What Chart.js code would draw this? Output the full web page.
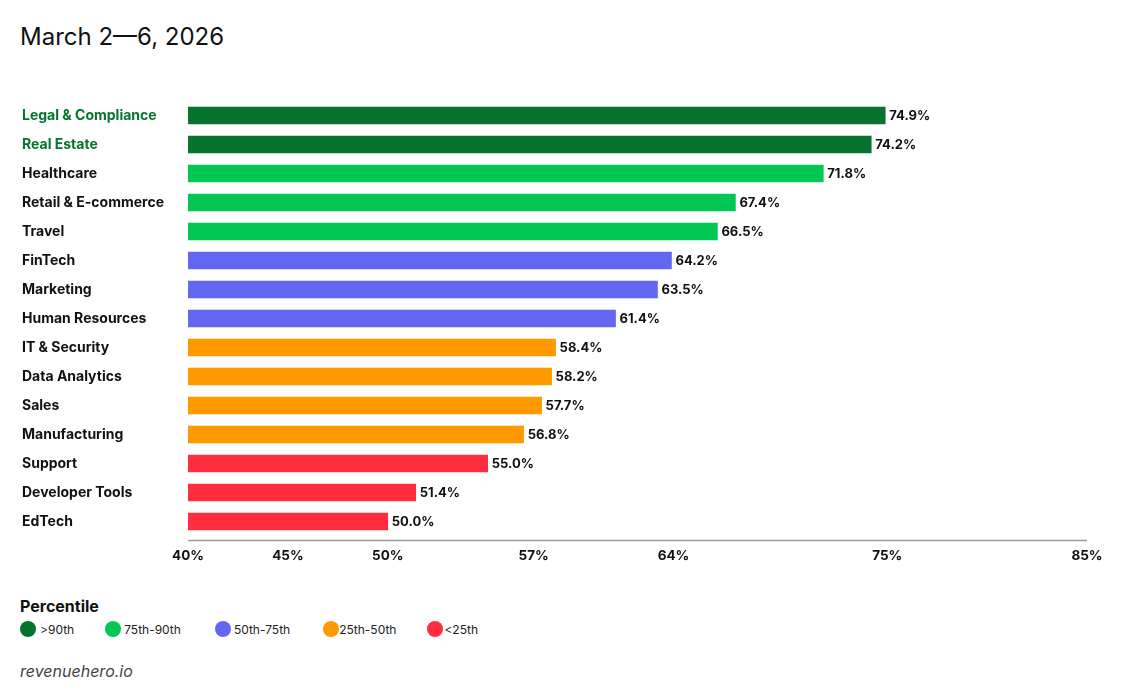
<!DOCTYPE html>
<html>
<head>
<meta charset="utf-8">
<script src="https://cdn.jsdelivr.net/npm/chart.js@4.4.1/dist/chart.umd.min.js"></script>
<style>
  html, body { margin: 0; padding: 0; background: #fff; }
  body { width: 1131px; height: 700px; position: relative; overflow: hidden; font-family: Inter, "Noto Sans", sans-serif; color: #111; }
  #title { position: absolute; left: 20px; top: 25px; font-size: 24px; line-height: 1; font-weight: 400; color: #111; }
  #wrap { position: absolute; left: 0; top: 0; width: 1131px; height: 580px; }
  #legTitle { position: absolute; left: 20px; top: 598px; font-size: 16px; line-height: 1; font-weight: 700; color: #111; }
  #legend { position: absolute; left: 20px; top: 621px; height: 16px; display: flex; align-items: center; font-size: 12px; color: #222; }
  .item { display: flex; align-items: center; }
  .dot { width: 16px; height: 16px; border-radius: 50%; display: inline-block; }
  #footer { position: absolute; left: 20px; top: 663px; font-size: 16px; line-height: 1; font-style: italic; color: #444; }
</style>
</head>
<body>
<div id="title">March 2—6, 2026</div>
<div id="wrap"><canvas id="c"></canvas></div>
<div id="legTitle">Percentile</div>
<div id="legend"></div>
<div id="footer">revenuehero.io</div>
<script>
const categories = ["Legal & Compliance","Real Estate","Healthcare","Retail & E-commerce","Travel","FinTech","Marketing","Human Resources","IT & Security","Data Analytics","Sales","Manufacturing","Support","Developer Tools","EdTech"];
const values = [74.9, 74.2, 71.8, 67.4, 66.5, 64.2, 63.5, 61.4, 58.4, 58.2, 57.7, 56.8, 55.0, 51.4, 50.0];
const tiers = [0, 0, 1, 1, 1, 2, 2, 2, 3, 3, 3, 3, 4, 4, 4];
const tierLabels = [">90th", "75th-90th", "50th-75th", "25th-50th", "<25th"];
const tierColors = ["#06742F", "#02C853", "#6366F1", "#FF9900", "#FF2D3E"];
const tickValues = [40, 45, 50, 57.3, 64.3, 75, 85];
const greenLabelTier = 0;

// HTML legend
const leg = document.getElementById('legend');
const gaps = [4, 3, 3, 0, 1];
const margins = [31, 34, 33, 31, 0];
tierLabels.forEach((t, i) => {
  const it = document.createElement('div');
  it.className = 'item';
  it.style.marginRight = margins[i] + 'px';
  const d = document.createElement('span');
  d.className = 'dot';
  d.style.background = tierColors[i];
  d.style.marginRight = gaps[i] + 'px';
  const s = document.createElement('span');
  s.textContent = t;
  it.appendChild(d); it.appendChild(s);
  leg.appendChild(it);
});

const valueLabels = {
  id: 'valueLabels',
  afterDatasetsDraw(chart) {
    const ctx = chart.ctx;
    const meta = chart.getDatasetMeta(0);
    ctx.save();
    ctx.font = '700 13px Inter, "Noto Sans", sans-serif';
    ctx.fillStyle = '#111';
    ctx.textAlign = 'left';
    ctx.textBaseline = 'middle';
    meta.data.forEach((bar, i) => {
      ctx.fillText(values[i].toFixed(1) + '%', bar.x + 4, bar.y + 1);
    });
    ctx.restore();
  }
};

const axisLine = {
  id: 'axisLine',
  afterDraw(chart) {
    const { ctx, chartArea } = chart;
    ctx.save();
    ctx.strokeStyle = '#9a9a9a';
    ctx.lineWidth = 1.5;
    ctx.beginPath();
    const y = chartArea.bottom + 4.5;
    ctx.moveTo(chartArea.left, y);
    ctx.lineTo(chartArea.right, y);
    ctx.stroke();
    ctx.restore();
  }
};

new Chart(document.getElementById('c'), {
  type: 'bar',
  data: {
    labels: categories,
    datasets: [{
      data: values,
      backgroundColor: tiers.map(t => tierColors[t]),
      borderWidth: 0,
      barThickness: 17
    }]
  },
  options: {
    indexAxis: 'y',
    responsive: true,
    maintainAspectRatio: false,
    animation: false,
    layout: { padding: { top: 101, left: 22, right: 44, bottom: 0 } },
    plugins: { legend: { display: false }, tooltip: { enabled: false } },
    scales: {
      x: {
        type: 'linear',
        min: 40, max: 85,
        afterBuildTicks(axis) { axis.ticks = tickValues.map(v => ({ value: v })); },
        afterFit(axis) { axis.height = 44; },
        grid: { display: false, drawTicks: false },
        border: { display: false },
        ticks: {
          autoSkip: false,
          maxRotation: 0,
          padding: 12,
          color: '#111',
          font: { family: 'Inter, "Noto Sans", sans-serif', size: 13.5, weight: '700' },
          callback: v => Math.round(v) + '%'
        }
      },
      y: {
        afterFit(axis) { axis.width = 166; },
        grid: { display: false, drawTicks: false },
        border: { display: false },
        ticks: {
          crossAlign: 'far',
          padding: 0,
          autoSkip: false,
          color: ctx => tiers[ctx.index] === greenLabelTier ? tierColors[0] : '#111',
          font: { family: 'Inter, "Noto Sans", sans-serif', size: 14, weight: '700' }
        }
      }
    }
  },
  plugins: [valueLabels, axisLine]
});
</script>
</body>
</html>
